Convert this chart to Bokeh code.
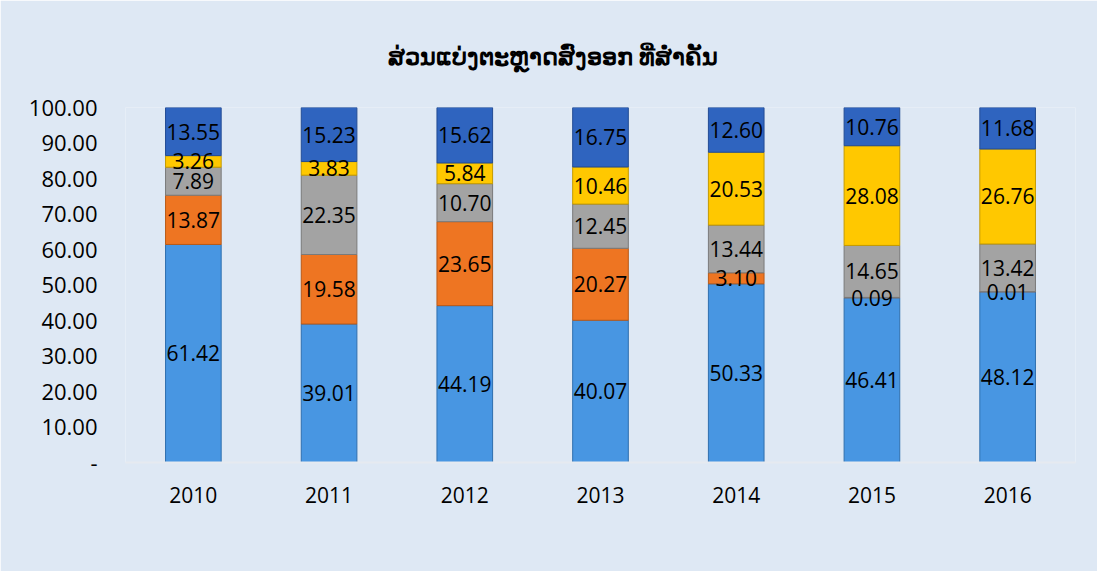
from bokeh.plotting import figure
from bokeh.models import ColumnDataSource, FixedTicker, Legend, LegendItem
from bokeh.core.properties import value
from bokeh.embed import file_html
from bokeh.resources import INLINE

years = ["2010", "2011", "2012", "2013", "2014", "2015", "2016"]
series = ["Thailand", "Australia", "Viet Nam", "Chaina", "Other"]
thailand = [61.42, 39.01, 44.19, 40.07, 50.33, 46.41, 48.12]
australia = [13.87, 19.58, 23.65, 20.27, 3.10, 0.09, 0.01]
vietnam = [7.89, 22.35, 10.70, 12.45, 13.44, 14.65, 13.42]
chaina = [3.26, 3.83, 5.84, 10.46, 20.53, 28.08, 26.76]
other = [13.55, 15.23, 15.62, 16.75, 12.60, 10.76, 11.68]
title_text = "ສ່ວນແບ່ງຕະຫຼາດສົ່ງອອກ ທີ່ສຳຄັນ"
y_ticks = [0, 10, 20, 30, 40, 50, 60, 70, 80, 90, 100]

colors = ["#4896E2", "#EE7522", "#A3A3A3", "#FFC800", "#2F64BF"]
edges = ["#2F6FAE", "#B85A18", "#7A7A7A", "#C49A00", "#234C94"]
FONT = "Open Sans"
BG = "#DEE8F4"

data = {"year": years, "Thailand": thailand, "Australia": australia,
        "Viet Nam": vietnam, "Chaina": chaina, "Other": other}
src = ColumnDataSource(data)

p = figure(x_range=years, y_range=(0, 100), frame_width=950, frame_height=355,
           output_backend="svg", toolbar_location=None,
           min_border_left=125, min_border_right=22, min_border_top=101,
           min_border_bottom=0)
p.background_fill_color = BG
p.border_fill_color = BG
p.outline_line_color = None

renderers = p.vbar_stack(series, x="year", width=0.41, source=src,
                         fill_color=colors, line_color=edges, line_width=1)

# data labels at segment centres
lx, ly, lt = [], [], []
for i, yr in enumerate(years):
    base = 0.0
    for arr in (thailand, australia, vietnam, chaina, other):
        v = arr[i]
        lx.append(yr)
        ly.append(base + v / 2)
        lt.append(f"{v:.2f}")
        base += v
lsrc = ColumnDataSource(dict(x=lx, y=ly, t=lt))
p.text(x="x", y="y", text="t", source=lsrc, text_align="center",
       text_baseline="middle", text_font=value(FONT), text_font_size="21px",
       text_color="#000000")

# axes
p.yaxis.ticker = FixedTicker(ticks=y_ticks)
p.yaxis.major_label_overrides = {t: ("-" if t == 0 else f"{t:.2f}") for t in y_ticks}
p.yaxis.axis_line_color = None
p.yaxis.major_tick_line_color = None
p.yaxis.minor_tick_line_color = None
p.yaxis.major_label_standoff = 22
p.yaxis.major_label_text_font = FONT
p.yaxis.major_label_text_font_size = "22px"
p.yaxis.major_label_text_color = "#000000"

p.xaxis.axis_line_color = "#E6EAF0"
p.xaxis.axis_line_width = 2
p.xaxis.major_tick_line_color = None
p.xaxis.minor_tick_line_color = None
p.xaxis.major_label_standoff = 18
p.xaxis.major_label_text_font = FONT
p.xaxis.major_label_text_font_size = "21px"
p.xaxis.major_label_text_color = "#000000"

p.xgrid.grid_line_color = None
p.ygrid.grid_line_color = None

# title
p.title.text = title_text
p.title.align = "left"
p.title.offset = 262
p.title.text_font = "Noto Sans"
p.title.text_font_size = "24px"
p.title.text_font_style = "bold"
p.title.text_color = "#000000"
p.title.standoff = 72

# legend
items = [LegendItem(label=s, renderers=[r]) for s, r in zip(series, renderers)]
legend = Legend(items=items, orientation="horizontal", location=(142, 0),
                background_fill_alpha=0, border_line_color=None,
                label_text_font=FONT, label_text_font_size="20px",
                label_text_color="#000000", glyph_width=14, glyph_height=14,
                spacing=26, label_standoff=6, margin=18, padding=0)
p.add_layout(legend, "below")

open("out.html", "w").write(file_html(p, INLINE))
